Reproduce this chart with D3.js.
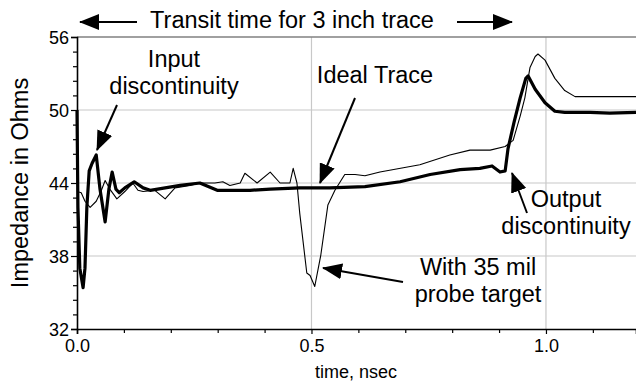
<!DOCTYPE html>
<html>
<head>
<meta charset="utf-8">
<script src="https://cdn.jsdelivr.net/npm/d3@7"></script>
<style>
  html, body { margin: 0; padding: 0; background: #fff; }
  svg { display: block; }
  text { font-family: "Liberation Sans", Arial, sans-serif; fill: #000; }
</style>
</head>
<body>
<svg id="chart" width="636" height="385"></svg>
<script>
// ---- Data ----
const idealTime = [0, 0.002, 0.006, 0.013, 0.017, 0.021, 0.026, 0.032, 0.041, 0.049, 0.060, 0.068, 0.075, 0.083, 0.090, 0.102, 0.122, 0.141, 0.156, 0.188, 0.220, 0.262, 0.299, 0.369, 0.412, 0.475, 0.539, 0.614, 0.689, 0.753, 0.817, 0.859, 0.885, 0.902, 0.913, 0.919, 0.932, 0.945, 0.957, 0.962, 0.977, 0.998, 1.019, 1.040, 1.094, 1.136, 1.192];
const idealZ    = [50, 42, 37, 35.4, 37, 42, 45.0, 45.6, 46.3, 43.5, 40.8, 43.5, 44.9, 43.5, 43.2, 43.6, 44.1, 43.6, 43.4, 43.6, 43.8, 44.0, 43.4, 43.4, 43.5, 43.6, 43.6, 43.7, 44.1, 44.7, 45.1, 45.2, 45.4, 44.9, 45.0, 46.8, 49.0, 51.0, 52.6, 52.8, 51.7, 50.6, 49.9, 49.8, 49.8, 49.75, 49.8];

const probeTime = [0, 0.009, 0.017, 0.028, 0.041, 0.051, 0.060, 0.070, 0.085, 0.102, 0.119, 0.130, 0.141, 0.166, 0.188, 0.209, 0.241, 0.262, 0.294, 0.311, 0.326, 0.348, 0.358, 0.384, 0.412, 0.433, 0.454, 0.461, 0.469, 0.475, 0.490, 0.497, 0.507, 0.520, 0.535, 0.550, 0.571, 0.593, 0.614, 0.646, 0.731, 0.795, 0.838, 0.881, 0.913, 0.930, 0.945, 0.955, 0.966, 0.977, 0.983, 0.998, 1.019, 1.040, 1.062, 1.115, 1.192];
const probeZ    = [43.3, 43.2, 42.5, 42.0, 42.5, 43.3, 44.2, 43.5, 42.7, 43.3, 44.0, 43.4, 43.3, 43.4, 42.7, 43.6, 43.8, 44.0, 44.0, 44.1, 43.8, 44.0, 44.8, 44.0, 44.9, 44.0, 44.0, 45.2, 44.0, 41.5, 36.6, 36.4, 35.5, 38.1, 42.2, 43.4, 44.7, 44.7, 44.6, 44.9, 45.5, 46.3, 46.7, 46.7, 47.0, 47.5, 49.5, 51.0, 53.5, 54.4, 54.6, 54.1, 52.6, 51.6, 51.1, 51.1, 51.1];

const yMajorTicks = [32, 38, 44, 50, 56];
const yMinorTicks = [33.2, 34.4, 35.6, 36.8, 39.2, 40.4, 41.6, 42.8, 45.2, 46.4, 47.6, 48.8, 51.2, 52.4, 53.6, 54.8];
const xMajorTicks = [0.0, 0.5, 1.0];
const xMinorTicks = [0.1, 0.2, 0.3, 0.4, 0.6, 0.7, 0.8, 0.9, 1.1];

const titleText = "Transit time for 3 inch trace";
const yLabel = "Impedance in Ohms";
const xLabel = "time, nsec";

// ---- Layout ----
const svg = d3.select("#chart");
const L = 77, R = 636, T = 37, B = 329;
const x = d3.scaleLinear().domain([0, 1.192]).range([L, R]);
const y = d3.scaleLinear().domain([32, 56]).range([B, T]);

// gridlines
const grid = svg.append("g");
grid.selectAll("line.h").data([38, 44, 50]).enter().append("line")
  .attr("x1", L).attr("x2", R).attr("y1", d => y(d)).attr("y2", d => y(d))
  .attr("stroke", "#c8c8c8").attr("stroke-width", 1.2);
grid.selectAll("line.v").data([0.5, 1.0]).enter().append("line")
  .attr("y1", T).attr("y2", B).attr("x1", d => x(d)).attr("x2", d => x(d))
  .attr("stroke", "#c8c8c8").attr("stroke-width", 1.2);
// top border
svg.append("line").attr("x1", L).attr("x2", R).attr("y1", T).attr("y2", T)
  .attr("stroke", "#808080").attr("stroke-width", 1.5);

// axes
const yAxis = svg.append("g").attr("transform", `translate(${L},0)`)
  .call(d3.axisLeft(y).tickValues(yMajorTicks).tickSize(6).tickPadding(2).tickFormat(d3.format("d")));
const yAxisMinor = svg.append("g").attr("transform", `translate(${L},0)`)
  .call(d3.axisLeft(y).tickValues(yMinorTicks).tickSize(4).tickFormat(""));
const xAxis = svg.append("g").attr("transform", `translate(0,${B})`)
  .call(d3.axisBottom(x).tickValues(xMajorTicks).tickSize(5).tickPadding(3).tickFormat(d3.format(".1f")));
const xAxisMinor = svg.append("g").attr("transform", `translate(0,${B})`)
  .call(d3.axisBottom(x).tickValues(xMinorTicks).tickSize(4).tickFormat(""));
[yAxis, yAxisMinor, xAxis, xAxisMinor].forEach(g => {
  g.select(".domain").attr("stroke", "#000").attr("stroke-width", 1.6);
  g.selectAll(".tick line").attr("stroke", "#000").attr("stroke-width", 1.2);
  g.selectAll(".tick text").attr("font-size", 18).attr("font-family", "Liberation Sans, Arial, sans-serif").attr("fill", "#000");
});
yAxisMinor.select(".domain").remove();
xAxisMinor.select(".domain").remove();
xAxis.selectAll(".tick text").attr("dy", "0.85em");
yAxis.selectAll(".tick text").attr("dy", "0.36em");

// lines
const line = d3.line().x(d => x(d[0])).y(d => y(d[1]));
svg.append("path").datum(d3.zip(probeTime, probeZ))
  .attr("d", line).attr("fill", "none").attr("stroke", "#000").attr("stroke-width", 1.1)
  .attr("stroke-linejoin", "round");
svg.append("path").datum(d3.zip(idealTime, idealZ))
  .attr("d", line).attr("fill", "none").attr("stroke", "#000").attr("stroke-width", 3.2)
  .attr("stroke-linejoin", "round");

// arrow marker
const defs = svg.append("defs");
defs.append("marker").attr("id", "ah").attr("viewBox", "0 0 20 16")
  .attr("refX", 19).attr("refY", 8).attr("markerWidth", 20).attr("markerHeight", 16)
  .attr("markerUnits", "userSpaceOnUse").attr("orient", "auto")
  .append("path").attr("d", "M0,0 L20,8 L0,16 Z").attr("fill", "#000");

function arrow(x1, y1, x2, y2) {
  svg.append("line").attr("x1", x1).attr("y1", y1).attr("x2", x2).attr("y2", y2)
    .attr("stroke", "#000").attr("stroke-width", 2).attr("marker-end", "url(#ah)");
}

// title with arrows
svg.append("text").attr("x", 292).attr("y", 28).attr("text-anchor", "middle")
  .attr("font-size", 23.5).text(titleText);
arrow(137, 22, 80, 22);
arrow(457, 22, 512, 22);

// axis labels
svg.append("text").attr("transform", "translate(28,183) rotate(-90)")
  .attr("text-anchor", "middle").attr("font-size", 23.5).text(yLabel);
svg.append("text").attr("x", 356).attr("y", 378).attr("text-anchor", "middle")
  .attr("font-size", 18).text(xLabel);

// annotations
function label(cx, by, lines) {
  lines.forEach((t, i) => {
    svg.append("text").attr("x", cx).attr("y", by + i * 27).attr("text-anchor", "middle")
      .attr("font-size", 23.5).text(t);
  });
}
label(174, 67, ["Input", "discontinuity"]);
arrow(117, 105, 97, 150);
label(375, 83, ["Ideal Trace"]);
arrow(355, 98, 320, 183);
label(478, 275, ["With 35 mil", "probe target"]);
arrow(403, 282, 323, 268);
label(566, 207, ["Output", "discontinuity"]);
arrow(527, 213, 512, 173);
</script>
</body>
</html>
